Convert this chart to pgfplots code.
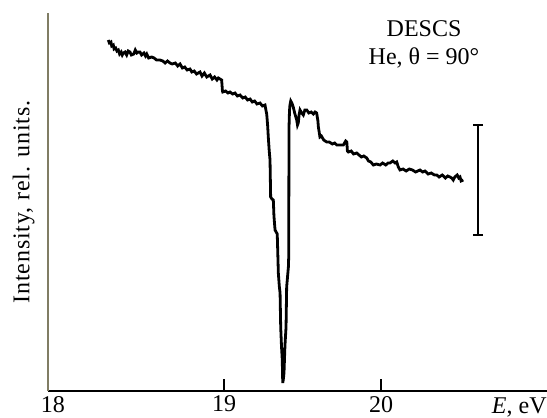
\documentclass[border=0pt]{standalone}
\usepackage{fontspec}
\setmainfont{Liberation Serif}
\newfontfamily\spaced[LetterSpace=3.5]{Liberation Serif}
\usepackage{pgfplots}
\pgfplotsset{compat=1.18}

\definecolor{spinecolor}{RGB}{128,125,100}

\begin{document}
\begin{tikzpicture}
\begin{axis}[
  scale only axis, width=249.5pt, height=189pt,
  xmin=17.879, xmax=21.057, ymin=0, ymax=378,
  axis x line=bottom, axis y line=left,
  axis line style={-},
  x axis line style={black, line width=0.6pt},
  y axis line style={spinecolor, line width=1.4pt},
  xtick={19,20}, xticklabels={19,20},
  extra x ticks={17.91}, extra x tick labels={18},
  extra x tick style={major tick length=0pt},
  ytick=\empty,
  tick align=inside, major tick length=6pt,
  major tick style={black, line width=0.7pt},
  /pgf/number format/assume math mode=true,
  tick label style={font=\fontsize{12}{14}\selectfont},
  xticklabel style={yshift=1pt},
  ylabel={\spaced Intensity, rel. units.},
  ylabel style={font=\fontsize{12}{14}\selectfont, at={(axis description cs:-0.026,0.5)}, anchor=south, inner sep=0pt},
  clip=false,
]
\addplot[black, line width=1.4pt, line join=miter] coordinates {
(18.263,351)(18.270,348)(18.280,349)(18.285,345)(18.295,346)(18.300,342)(18.310,343)(18.318,340)
(18.327,341)(18.335,337)(18.345,339)(18.352,336)(18.359,338)(18.370,339)(18.380,336)(18.390,340)
(18.401,339)(18.410,336)(18.425,337)(18.435,341)(18.445,338)(18.455,339)(18.465,339)(18.475,336)
(18.490,338)(18.500,335)(18.508,337)(18.520,333)(18.539,334)(18.555,333)(18.570,331)(18.592,331)
(18.610,330)(18.625,328)(18.640,330)(18.656,328)(18.670,327)(18.690,328)(18.705,325)(18.720,327)
(18.735,323)(18.750,324)(18.765,321)(18.783,322)(18.795,319)(18.810,320)(18.825,317)(18.847,319)
(18.860,315)(18.875,318)(18.890,314)(18.911,316)(18.925,312)(18.940,314)(18.955,311)(18.964,313)
(18.985,311)(18.990,300)(18.992,299)(19.010,300)(19.025,298)(19.038,299)(19.055,297)(19.070,298)
(19.085,295)(19.102,296)(19.120,293)(19.135,294)(19.150,291)(19.166,292)(19.180,289)(19.195,290)
(19.210,287)(19.229,288)(19.245,285)(19.261,286)(19.268,280)(19.272,277)
(19.278,265)(19.282,254)(19.288,240)(19.293,231)(19.297,194)(19.305,192)(19.314,191)(19.318,175)
(19.325,161)(19.332,159)(19.339,157)(19.343,135)(19.346,118)(19.352,105)(19.357,98)(19.361,64)
(19.366,45)(19.371,31)(19.374,8)(19.378,12)(19.382,18)(19.388,45)(19.395,64)(19.399,104)
(19.405,115)(19.410,124)(19.412,134)(19.413,200)(19.414,264)(19.417,280)(19.420,286)(19.425,290)
(19.432,288)(19.441,284)(19.450,278)(19.463,271)(19.468,266)(19.473,268)(19.478,276)(19.484,281)
(19.495,278)(19.505,276)(19.515,281)(19.527,281)(19.540,278)(19.555,279)(19.569,277)(19.580,279)
(19.590,278)(19.598,270)(19.601,264)(19.611,254)(19.620,255)(19.635,251)(19.654,249)(19.670,249)
(19.690,247)(19.705,248)(19.718,246)(19.735,246)(19.760,246)(19.775,250)(19.782,249)(19.786,240)
(19.792,239)(19.810,240)(19.825,237)(19.845,238)(19.860,236)(19.875,234)(19.890,235)(19.909,233)
(19.920,230)(19.935,229)(19.951,226)(19.970,227)(19.994,226)(20.010,228)(20.030,226)(20.045,228)
(20.057,228)(20.075,230)(20.090,228)(20.100,229)(20.110,224)(20.121,221)(20.140,222)(20.160,220)
(20.180,222)(20.200,221)(20.220,219)(20.248,221)(20.265,219)(20.280,220)(20.300,217)(20.320,218)
(20.340,216)(20.355,216)(20.370,214)(20.390,216)(20.410,213)(20.425,215)(20.439,214)(20.450,213)
(20.460,211)(20.470,214)(20.485,216)(20.495,213)(20.503,214)(20.510,210)(20.524,211)
};
% scale bar
\addplot[black, line width=0.7pt, mark=-, mark size=2.5pt, mark options={solid, line width=0.7pt}]
  coordinates {(20.618,156)(20.618,266)};
\node[align=center, font=\fontsize{12}{14}\selectfont, anchor=center] at (axis cs:20.274,347)
  {DESCS\\He,~θ~=~90°};
\node[font=\fontsize{12}{14}\selectfont, anchor=base east, inner sep=0pt] at (rel axis cs:1,0)
  [yshift=-11pt] {\textit{E}, eV};
\coordinate (SW) at (rel axis cs:0,0);
\coordinate (NE) at (rel axis cs:1,1);
\end{axis}
\pgfresetboundingbox
\path[use as bounding box] ([shift={(-24pt,-13.5pt)}]SW) rectangle ([shift={(0,6.5pt)}]NE);
\end{tikzpicture}
\end{document}
